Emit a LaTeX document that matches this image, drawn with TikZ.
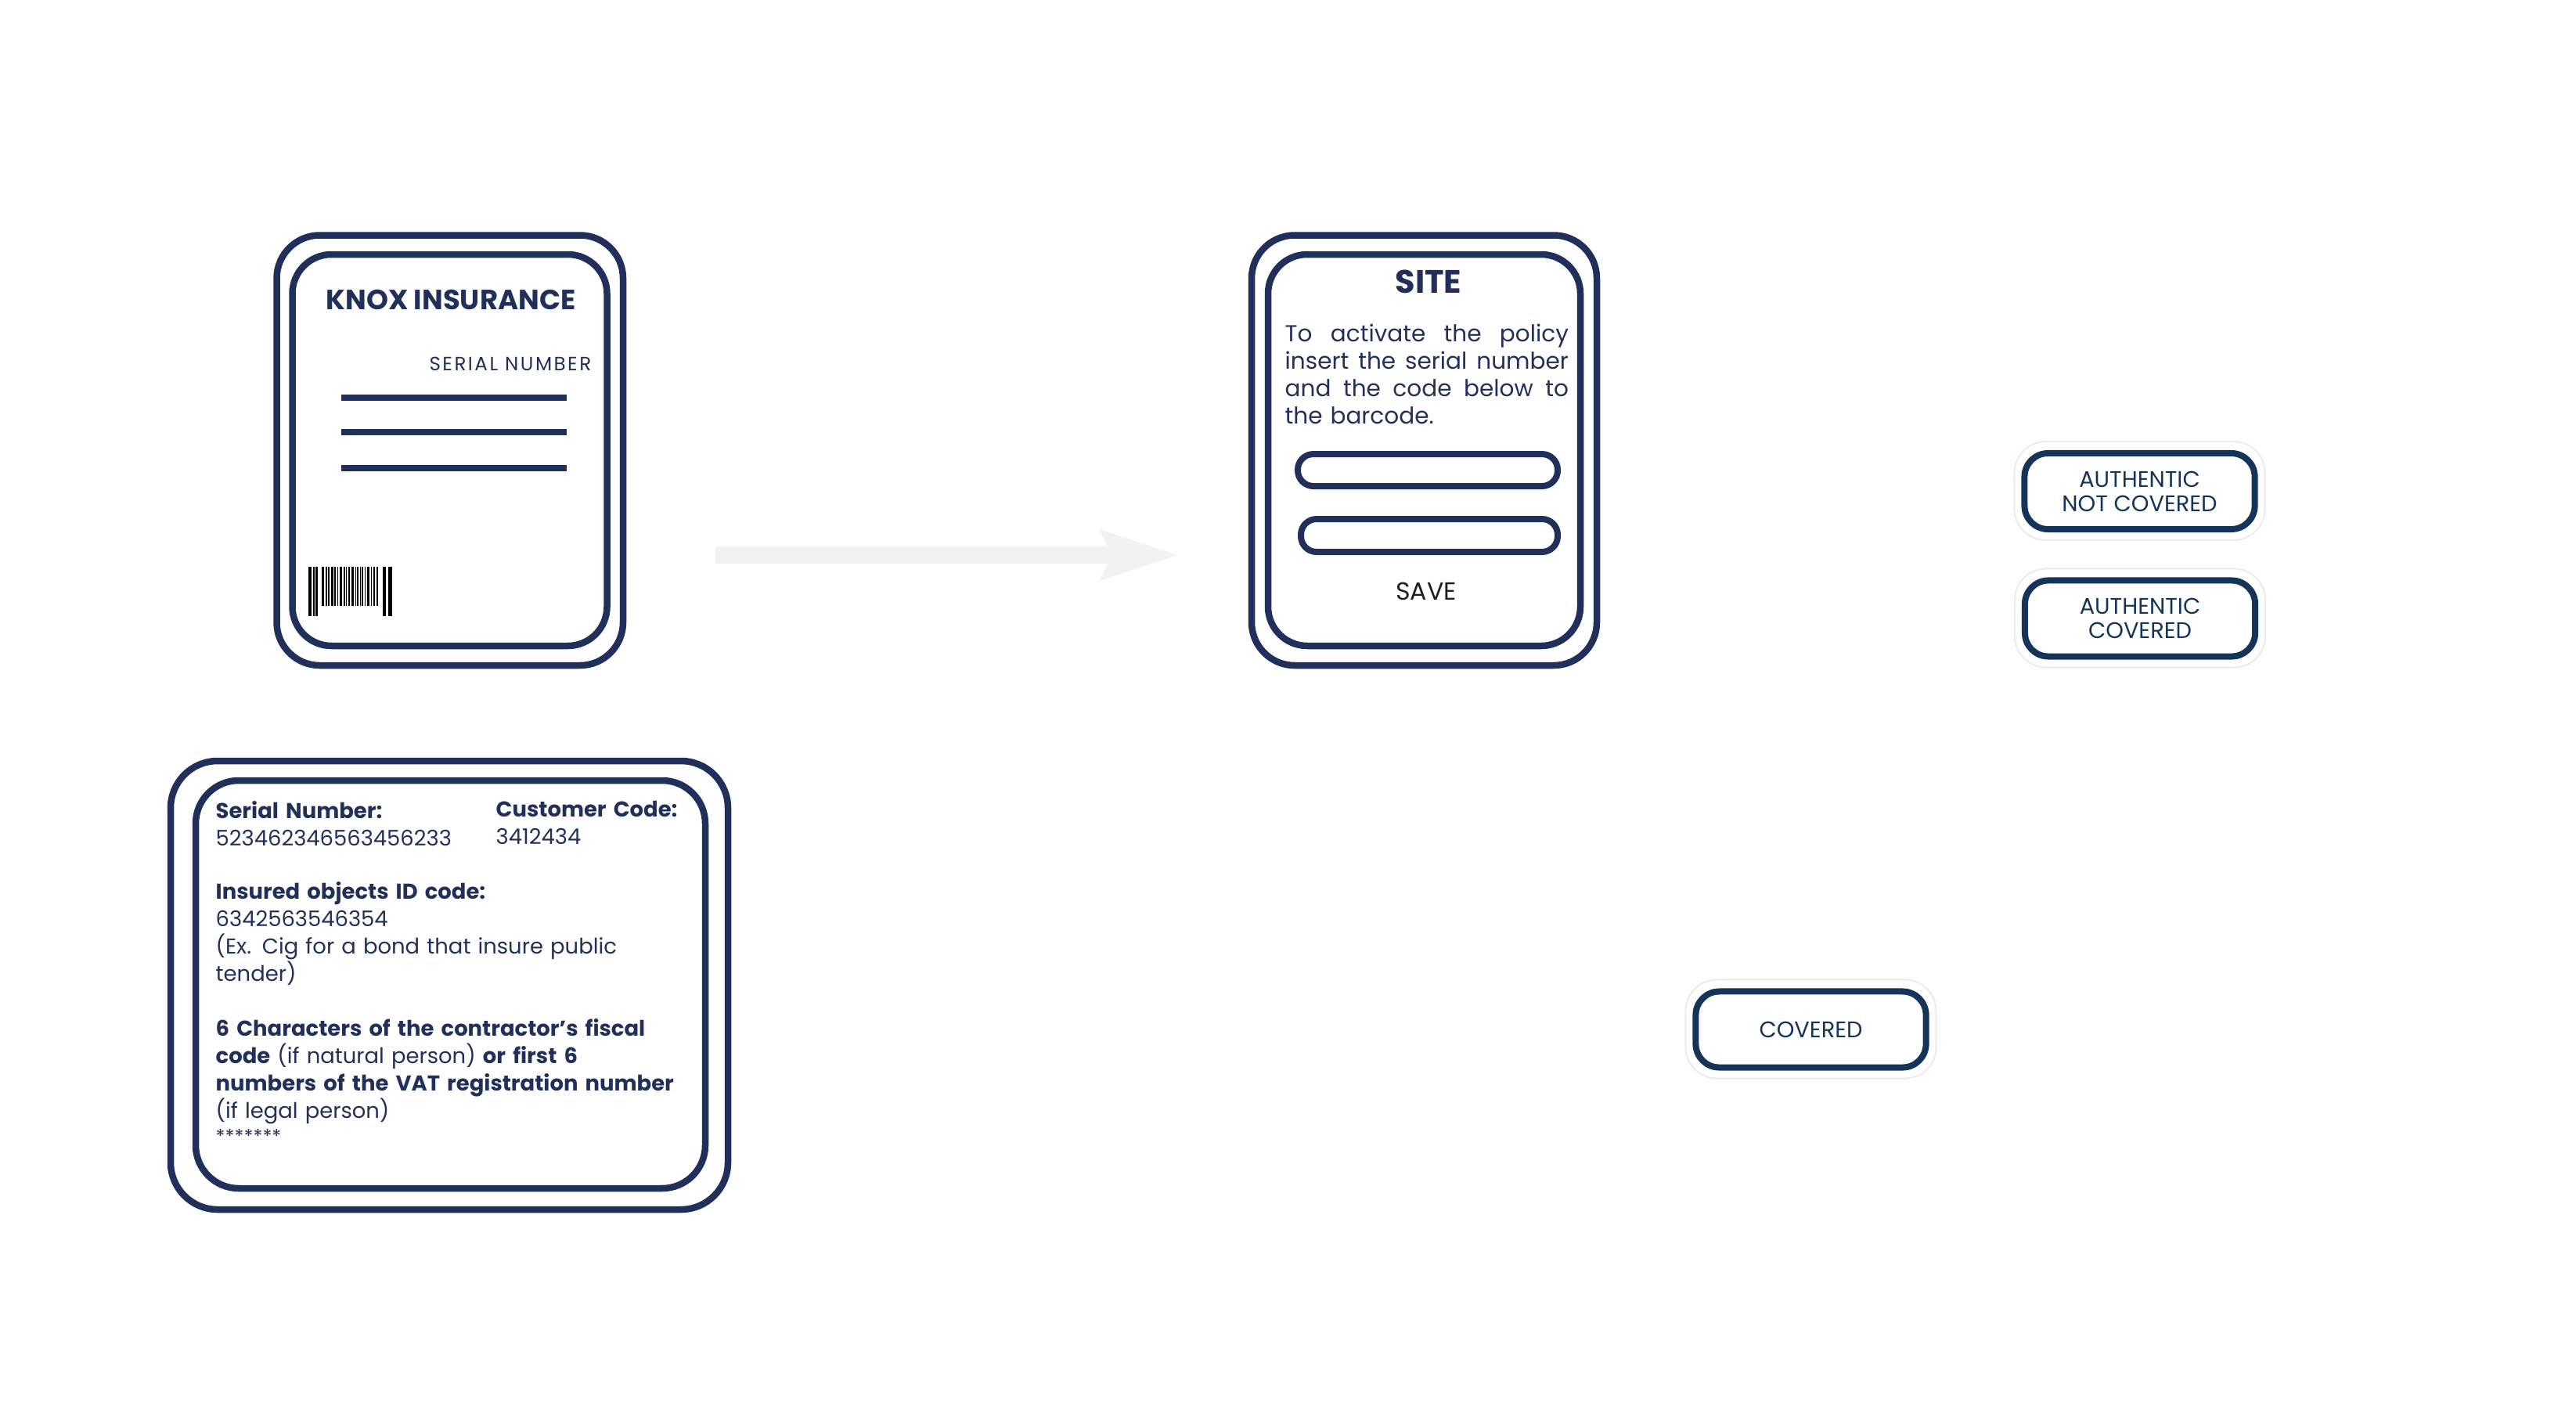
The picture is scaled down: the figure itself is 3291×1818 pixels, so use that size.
\documentclass[tikz,border=0pt]{standalone}
\usepackage{fontspec}
\setmainfont{Poppins}
\usetikzlibrary{arrows.meta,calc}
\definecolor{navy}{RGB}{33,48,90}
\definecolor{btnblue}{RGB}{20,52,90}
\definecolor{savegray}{RGB}{30,30,30}
\definecolor{arrowgray}{RGB}{242,242,242}
\definecolor{halogray}{RGB}{236,236,236}

\begin{document}
\begin{tikzpicture}[x=0.01cm,y=-0.01cm,line join=round,
	card/.style={draw=navy,line width=0.085cm,rounded corners=0.55cm},
	field/.style={draw=navy,line width=0.08cm,rounded corners=0.2cm},
	txt/.style={inner sep=0pt,text=navy},
	codetxt/.style={txt,anchor=base west,align=left,text width=6.2cm,font=\fontsize{7.8}{9.96}\selectfont},
	status/.style={draw=btnblue,line width=0.08cm,rounded corners=0.3cm,text=btnblue,
		minimum width=2.94cm,minimum height=0.97cm,inner sep=0pt,align=center,
		font=\fontsize{8.2}{8.8}\selectfont},
	halo/.style={draw=halogray,line width=0.02cm,rounded corners=0.4cm}]
	\useasboundingbox (0,0) rectangle (3291,1818);
	
	% insurance card
	\draw[card] (353.5,300.5) rectangle (796,850);
	\draw[card,rounded corners=0.5cm] (373.5,325) rectangle (775.5,825);
	\node[txt,anchor=base,font=\fontsize{10.1}{12}\bfseries\selectfont] (knoxT) at (576,395) {KNOX INSURANCE};
	\node[txt,anchor=base east,font=\fontsize{7}{8}\selectfont\addfontfeatures{LetterSpace=10}] (serialL) at (756,473) {SERIAL NUMBER};
	\foreach \y in {508,552,598}
	\draw[navy,line width=0.077cm] (436,\y) -- (724,\y);
	\foreach \a/\w in {394/4,400/1.5,403/3,489/4,496/5}
	\fill[black] (\a,724) rectangle ++(\w,63);
	\foreach \a/\w in {411/3,416/2,419/2,423/3,427/2,431/1,434/3,439/2,442/1,445/2,449/3,454/1,456/2,460/1,462/2,466/1,469/3,474/1,477/2,481/1.5}
	\fill[black] (\a,724) rectangle ++(\w,50);
	
	% arrow
	\coordinate (arrS) at (914,709);
	\coordinate (arrE) at (1504,709);
	\draw[arrowgray,line width=0.22cm,-{Stealth[length=1cm,width=0.66cm,inset=0.17cm,line width=0pt]}] (arrS) -- (arrE);
	
	% site
	\draw[card] (1599,300.5) rectangle (2040,850);
	\draw[card,rounded corners=0.5cm] (1620,325) rectangle (2019,825);
	\node[txt,anchor=base,font=\fontsize{11.8}{13}\bfseries\selectfont] (siteT) at (1825,374) {SITE};
	\node[txt,anchor=base west,text width=3.62cm,font=\fontsize{8.4}{9.96}\selectfont] (siteB) at (1641,436)
	{\hbox to 3.62cm{To\hfill activate\hfill the\hfill policy}
		\hbox to 3.62cm{insert\hfill the\hfill serial\hfill number}
		\hbox to 3.62cm{and\hfill the\hfill code\hfill below\hfill to}
		\hbox{the barcode.}};
	\draw[field] (1658,580) rectangle (1990,621);
	\draw[field] (1662,663) rectangle (1990,705);
	\node[txt,text=savegray,anchor=base,font=\fontsize{9}{10}\selectfont] (saveT) at (1822,766) {SAVE};
	
	% codes card
	\draw[card,rounded corners=0.6cm] (218,972) rectangle (930,1545);
	\draw[card] (250,997) rectangle (901,1518);
	\node[codetxt] (serialC) at (275,1045) {\textbf{Serial Number:}\\523462346563456233};
	\node[codetxt,text width=2.5cm] (custC) at (633,1043) {\textbf{Customer Code:}\\3412434};
	\node[codetxt] (objC) at (275,1148)
	{\textbf{Insured objects ID code:}\\6342563546354\\(Ex. Cig for a bond that insure public\\tender)};
	\node[codetxt] (fiscC) at (275,1323)
	{\textbf{6 Characters of the contractor’s fiscal}\\\textbf{code} (if natural person) \textbf{or first 6}\\\textbf{numbers of the VAT registration number}\\(if legal person)};
	\node[txt,anchor=base west,font=\fontsize{7}{8}\selectfont] (starC) at (275,1460) {*******};
	
	% results
	\node[status] (nc) at (2733.5,627.5) {AUTHENTIC\\NOT COVERED};
	\node[status] (ac) at (2734,790) {AUTHENTIC\\COVERED};
	\node[status] (cov) at (2313.5,1315) {COVERED};
	\foreach \b in {nc,ac,cov}
	\draw[halo] ($(\b.north west)+(-9,-11)$) rectangle ($(\b.south east)+(9,10)$);
\end{tikzpicture}
\end{document}
